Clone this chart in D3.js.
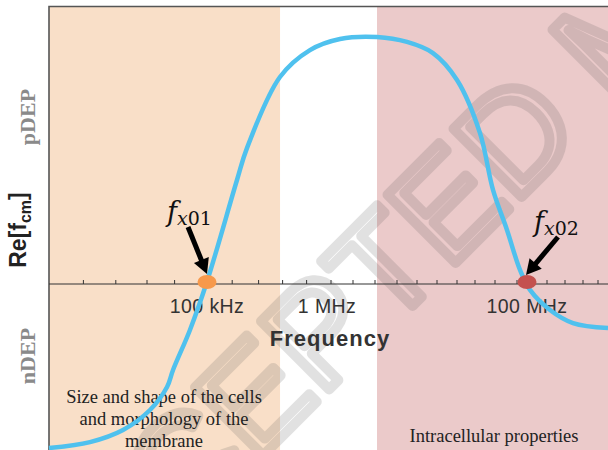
<!DOCTYPE html>
<html>
<head>
<meta charset="utf-8">
<script src="https://cdn.jsdelivr.net/npm/d3@7.9.0/dist/d3.min.js"></script>
<style>
  html, body { margin: 0; padding: 0; background: #fff; }
  svg { display: block; }
</style>
</head>
<body>
<svg width="608" height="450"></svg>
<script>
// curve: log10(frequency / Hz) vs Re[fcm]
const logFreq = [3.683, 4.025, 4.3, 4.525, 4.667, 4.717, 4.858, 5.0, 5.25, 5.333, 5.608, 5.858, 6.13, 6.5, 6.8, 7.06, 7.3, 7.53, 7.66, 7.8, 7.93, 8.03, 8.23, 8.46, 8.81];
const reCM    = [-0.664, -0.640, -0.591, -0.510, -0.417, -0.348, -0.186, 0.01, 0.421, 0.55, 0.838, 0.947, 0.992, 1.0, 0.98, 0.935, 0.826, 0.611, 0.381, 0.219, 0.057, -0.024, -0.105, -0.158, -0.178];

// shaded regions
const bandStart  = [3.683, 5.61, 6.5];
const bandEnd    = [5.61, 6.5, 8.81];
const bandColors = ["#f9dfc8", "#ffffff", "#ebcaca"];

// axis ticks
const tickValues = [3.97, 4.24, 4.5, 4.73, 4.98, 5.21, 5.43, 5.63, 5.83, 6.04, 6.26, 6.48, 6.7, 6.9, 7.1, 7.3, 7.48, 7.68, 7.9, 8.03, 8.2, 8.38, 8.56, 8.71];
const labelValues = [5, 6, 8];
const tickLabels = ["100 kHz", "1 MHz", "100 MHz"];

// crossover frequencies
const crossValues = [5, 8];
const crossNames  = ["01", "02"];
const crossColors = ["#f7994b", "#c4514f"];

const svg = d3.select("svg");
const leftX = 49, topY = 7, W = 608, H = 450;

const x = d3.scaleLinear().domain([5, 6, 8]).range([207, 327, 527]);
const y = d3.scaleLinear().domain([0, 1]).range([284, 37]);

// background bands
svg.selectAll(".band")
  .data(bandStart)
  .join("rect")
  .attr("x", d => x(d))
  .attr("y", topY)
  .attr("width", (d, i) => x(bandEnd[i]) - x(d))
  .attr("height", H - topY)
  .attr("fill", (d, i) => bandColors[i]);

// watermark
const wm = svg.append("g").attr("opacity", 0.17);
const wmText = wm.append("text")
  .attr("font-family", "Liberation Sans, Arial, sans-serif")
  .attr("font-size", 140)
  .attr("fill", "none")
  .attr("stroke", "#555")
  .attr("stroke-width", 10)
  .attr("stroke-linejoin", "round")
  .attr("dominant-baseline", "central")
  .text("ACCEPTED MANUSCRIPT");
const node = wmText.node();
const before = node.getSubStringLength(0, 7);
const dW = node.getSubStringLength(7, 1);
wmText.attr("x", -(before + dW / 2))
  .attr("transform", "translate(515,135) rotate(-45)");

// frame
svg.append("path")
  .attr("d", `M${leftX},${H}V${topY - 0.5}H${W}`)
  .attr("fill", "none")
  .attr("stroke", "#555")
  .attr("stroke-width", 1.6);

// zero axis
svg.append("line")
  .attr("x1", leftX).attr("x2", W)
  .attr("y1", y(0)).attr("y2", y(0))
  .attr("stroke", "#333").attr("stroke-width", 1.2);

svg.selectAll(".tick")
  .data(tickValues)
  .join("line")
  .attr("x1", d => x(d)).attr("x2", d => x(d))
  .attr("y1", y(0)).attr("y2", y(0) - 4)
  .attr("stroke", "#333").attr("stroke-width", 1);

svg.selectAll(".tlabel")
  .data(labelValues)
  .join("text")
  .attr("x", d => x(d))
  .attr("y", y(0) + 29)
  .attr("text-anchor", "middle")
  .attr("font-family", "Liberation Sans, Arial, sans-serif")
  .attr("font-size", 19.5)
  .attr("letter-spacing", 0.4)
  .attr("fill", "#333")
  .text((d, i) => tickLabels[i]);

svg.append("text")
  .attr("x", 330).attr("y", 346)
  .attr("text-anchor", "middle")
  .attr("font-family", "Liberation Sans, Arial, sans-serif")
  .attr("font-weight", "bold")
  .attr("font-size", 22)
  .attr("letter-spacing", 1)
  .attr("fill", "#333")
  .text("Frequency");

// y label
const yl = svg.append("text")
  .attr("transform", "translate(26,230) rotate(-90)")
  .attr("text-anchor", "middle")
  .attr("font-family", "Liberation Sans, Arial, sans-serif")
  .attr("font-weight", "bold")
  .attr("font-size", 23)
  .attr("fill", "#222");
yl.append("tspan").text("Re[f");
yl.append("tspan").attr("dy", 5).attr("font-size", 16).text("cm");
yl.append("tspan").attr("dy", -5).text("]");

svg.selectAll(".dep")
  .data([["pDEP", 117], ["nDEP", 356]])
  .join("text")
  .attr("transform", d => `translate(35,${d[1]}) rotate(-90)`)
  .attr("text-anchor", "middle")
  .attr("font-family", "Liberation Serif, Times New Roman, serif")
  .attr("font-weight", "bold")
  .attr("font-size", 22)
  .attr("fill", "#8a8a8a")
  .text(d => d[0]);

// region captions
const cap = svg.append("text")
  .attr("text-anchor", "middle")
  .attr("font-family", "Liberation Serif, Times New Roman, serif")
  .attr("font-size", 18.5)
  .attr("fill", "#222");
["Size and shape of the cells", "and morphology of the", "membrane"].forEach((t, i) => {
  cap.append("tspan").attr("x", 164).attr("y", 403 + i * 22).text(t);
});
svg.append("text")
  .attr("x", 494).attr("y", 442)
  .attr("text-anchor", "middle")
  .attr("font-family", "Liberation Serif, Times New Roman, serif")
  .attr("font-size", 18.5)
  .attr("fill", "#222")
  .text("Intracellular properties");

// curve
const line = d3.line()
  .x(d => x(d[0]))
  .y(d => y(d[1]))
  .curve(d3.curveCatmullRom.alpha(0.5));
svg.append("path")
  .datum(d3.zip(logFreq, reCM))
  .attr("d", line)
  .attr("fill", "none")
  .attr("stroke", "#4fc1ee")
  .attr("stroke-width", 4.5);

// crossover markers
svg.selectAll(".dot")
  .data(crossValues)
  .join("ellipse")
  .attr("cx", d => x(d))
  .attr("cy", y(0) - 2)
  .attr("rx", 9.5)
  .attr("ry", 7)
  .attr("fill", (d, i) => crossColors[i]);

// arrows and labels (offsets relative to each marker)
const arrowFrom = [[-19, -55], [31, -45]];
const arrowTo = [[0, -8], [-1, -7]];
const labelOff = [[-40, -61], [7, -51]];

crossValues.forEach((v, i) => {
  const cx = x(v), cy = y(0) - 2;
  const sx = cx + arrowFrom[i][0], sy = cy + arrowFrom[i][1];
  const tx = cx + arrowTo[i][0], ty = cy + arrowTo[i][1];
  const dx = tx - sx, dy = ty - sy, len = Math.hypot(dx, dy);
  const ux = dx / len, uy = dy / len, px = -uy, py = ux;
  const hl = 15, hw = 8;
  const bx = tx - ux * hl, by = ty - uy * hl;
  svg.append("line")
    .attr("x1", sx).attr("y1", sy)
    .attr("x2", bx + ux * 2).attr("y2", by + uy * 2)
    .attr("stroke", "#000").attr("stroke-width", 5);
  svg.append("path")
    .attr("d", `M${tx},${ty}L${bx + px * hw},${by + py * hw}L${bx - px * hw},${by - py * hw}Z`)
    .attr("fill", "#000");

  const t = svg.append("text")
    .attr("x", cx + labelOff[i][0])
    .attr("y", cy + labelOff[i][1])
    .attr("font-family", "DejaVu Serif, Liberation Serif, serif")
    .attr("fill", "#111");
  t.append("tspan").attr("font-style", "italic").attr("font-size", 27).text("f");
  t.append("tspan").attr("dy", 4).attr("font-style", "italic").attr("font-size", 19).text("x");
  t.append("tspan").attr("font-size", 19).text(crossNames[i]);
});
</script>
</body>
</html>
